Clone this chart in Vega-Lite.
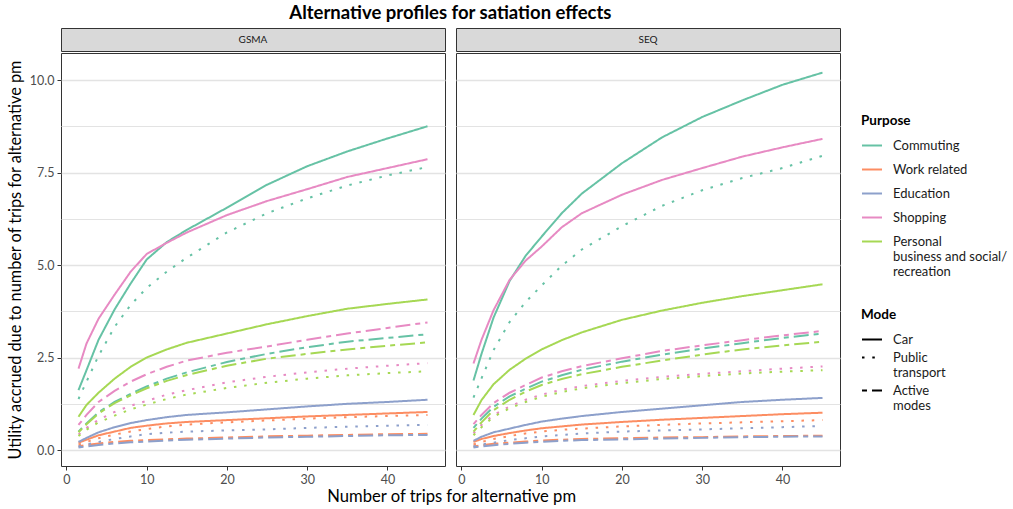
{
  "$schema": "https://vega.github.io/schema/vega-lite/v6.json",
  "background": "white",
  "padding": {"left": 6, "top": 4, "right": 5, "bottom": 5},
  "title": {"text": "Alternative profiles for satiation effects", "font": "Lato", "fontSize": 18.5, "fontWeight": "bold", "color": "black", "anchor": "middle", "offset": 5, "dx": -57},
  "config": {
    "font": "Lato",
    "view": {"stroke": "#333333", "strokeWidth": 1},
    "axis": {
      "domain": false,
      "labelColor": "#4D4D4D",
      "labelFontSize": 12.5,
      "labelPadding": 3,
      "tickColor": "#333333",
      "tickSize": 4,
      "titleColor": "black",
      "titleFontSize": 16.3,
      "titleFontWeight": "normal"
    },
    "legend": {
      "titleFontSize": 13.5,
      "titleFontWeight": "bold",
      "titleColor": "black",
      "titlePadding": 7,
      "labelFontSize": 13,
      "labelColor": "#1A1A1A",
      "labelLimit": 300,
      "labelOffset": 10,
      "symbolType": "stroke",
      "symbolSize": 400,
      "symbolStrokeWidth": 2,
      "rowPadding": 6
    }
  },
  "datasets": {
    "curves": [
      {"region":"GSMA","purpose":"Commuting","mode":"Car","trips":1.5,"utility":1.62},{"region":"GSMA","purpose":"Commuting","mode":"Car","trips":2.5,"utility":2.16},{"region":"GSMA","purpose":"Commuting","mode":"Car","trips":4,"utility":2.98},{"region":"GSMA","purpose":"Commuting","mode":"Car","trips":6,"utility":3.8},{"region":"GSMA","purpose":"Commuting","mode":"Car","trips":8,"utility":4.5},{"region":"GSMA","purpose":"Commuting","mode":"Car","trips":10,"utility":5.15},{"region":"GSMA","purpose":"Commuting","mode":"Car","trips":12.5,"utility":5.62},{"region":"GSMA","purpose":"Commuting","mode":"Car","trips":15,"utility":5.95},{"region":"GSMA","purpose":"Commuting","mode":"Car","trips":20,"utility":6.55},{"region":"GSMA","purpose":"Commuting","mode":"Car","trips":25,"utility":7.17},{"region":"GSMA","purpose":"Commuting","mode":"Car","trips":30,"utility":7.67},{"region":"GSMA","purpose":"Commuting","mode":"Car","trips":35,"utility":8.07},{"region":"GSMA","purpose":"Commuting","mode":"Car","trips":40,"utility":8.42},{"region":"GSMA","purpose":"Commuting","mode":"Car","trips":45,"utility":8.75},
      {"region":"GSMA","purpose":"Commuting","mode":"Public transport","trips":1.5,"utility":1.38},{"region":"GSMA","purpose":"Commuting","mode":"Public transport","trips":2.5,"utility":1.85},{"region":"GSMA","purpose":"Commuting","mode":"Public transport","trips":4,"utility":2.55},{"region":"GSMA","purpose":"Commuting","mode":"Public transport","trips":6,"utility":3.33},{"region":"GSMA","purpose":"Commuting","mode":"Public transport","trips":8,"utility":3.92},{"region":"GSMA","purpose":"Commuting","mode":"Public transport","trips":10,"utility":4.38},{"region":"GSMA","purpose":"Commuting","mode":"Public transport","trips":12.5,"utility":4.82},{"region":"GSMA","purpose":"Commuting","mode":"Public transport","trips":15,"utility":5.2},{"region":"GSMA","purpose":"Commuting","mode":"Public transport","trips":20,"utility":5.88},{"region":"GSMA","purpose":"Commuting","mode":"Public transport","trips":25,"utility":6.4},{"region":"GSMA","purpose":"Commuting","mode":"Public transport","trips":30,"utility":6.8},{"region":"GSMA","purpose":"Commuting","mode":"Public transport","trips":35,"utility":7.15},{"region":"GSMA","purpose":"Commuting","mode":"Public transport","trips":40,"utility":7.42},{"region":"GSMA","purpose":"Commuting","mode":"Public transport","trips":45,"utility":7.65},
      {"region":"GSMA","purpose":"Commuting","mode":"Active modes","trips":1.5,"utility":0.5},{"region":"GSMA","purpose":"Commuting","mode":"Active modes","trips":2.5,"utility":0.72},{"region":"GSMA","purpose":"Commuting","mode":"Active modes","trips":4,"utility":1.02},{"region":"GSMA","purpose":"Commuting","mode":"Active modes","trips":6,"utility":1.3},{"region":"GSMA","purpose":"Commuting","mode":"Active modes","trips":8,"utility":1.52},{"region":"GSMA","purpose":"Commuting","mode":"Active modes","trips":10,"utility":1.72},{"region":"GSMA","purpose":"Commuting","mode":"Active modes","trips":12.5,"utility":1.93},{"region":"GSMA","purpose":"Commuting","mode":"Active modes","trips":15,"utility":2.1},{"region":"GSMA","purpose":"Commuting","mode":"Active modes","trips":20,"utility":2.38},{"region":"GSMA","purpose":"Commuting","mode":"Active modes","trips":25,"utility":2.6},{"region":"GSMA","purpose":"Commuting","mode":"Active modes","trips":30,"utility":2.78},{"region":"GSMA","purpose":"Commuting","mode":"Active modes","trips":35,"utility":2.93},{"region":"GSMA","purpose":"Commuting","mode":"Active modes","trips":40,"utility":3.03},{"region":"GSMA","purpose":"Commuting","mode":"Active modes","trips":45,"utility":3.13},
      {"region":"GSMA","purpose":"Work related","mode":"Car","trips":1.5,"utility":0.2},{"region":"GSMA","purpose":"Work related","mode":"Car","trips":2.5,"utility":0.28},{"region":"GSMA","purpose":"Work related","mode":"Car","trips":4,"utility":0.4},{"region":"GSMA","purpose":"Work related","mode":"Car","trips":6,"utility":0.5},{"region":"GSMA","purpose":"Work related","mode":"Car","trips":8,"utility":0.6},{"region":"GSMA","purpose":"Work related","mode":"Car","trips":10,"utility":0.66},{"region":"GSMA","purpose":"Work related","mode":"Car","trips":12.5,"utility":0.72},{"region":"GSMA","purpose":"Work related","mode":"Car","trips":15,"utility":0.76},{"region":"GSMA","purpose":"Work related","mode":"Car","trips":20,"utility":0.81},{"region":"GSMA","purpose":"Work related","mode":"Car","trips":25,"utility":0.86},{"region":"GSMA","purpose":"Work related","mode":"Car","trips":30,"utility":0.91},{"region":"GSMA","purpose":"Work related","mode":"Car","trips":35,"utility":0.95},{"region":"GSMA","purpose":"Work related","mode":"Car","trips":40,"utility":0.99},{"region":"GSMA","purpose":"Work related","mode":"Car","trips":45,"utility":1.03},
      {"region":"GSMA","purpose":"Work related","mode":"Public transport","trips":1.5,"utility":0.15},{"region":"GSMA","purpose":"Work related","mode":"Public transport","trips":2.5,"utility":0.22},{"region":"GSMA","purpose":"Work related","mode":"Public transport","trips":4,"utility":0.32},{"region":"GSMA","purpose":"Work related","mode":"Public transport","trips":6,"utility":0.42},{"region":"GSMA","purpose":"Work related","mode":"Public transport","trips":8,"utility":0.5},{"region":"GSMA","purpose":"Work related","mode":"Public transport","trips":10,"utility":0.57},{"region":"GSMA","purpose":"Work related","mode":"Public transport","trips":12.5,"utility":0.64},{"region":"GSMA","purpose":"Work related","mode":"Public transport","trips":15,"utility":0.69},{"region":"GSMA","purpose":"Work related","mode":"Public transport","trips":20,"utility":0.75},{"region":"GSMA","purpose":"Work related","mode":"Public transport","trips":25,"utility":0.8},{"region":"GSMA","purpose":"Work related","mode":"Public transport","trips":30,"utility":0.85},{"region":"GSMA","purpose":"Work related","mode":"Public transport","trips":35,"utility":0.89},{"region":"GSMA","purpose":"Work related","mode":"Public transport","trips":40,"utility":0.92},{"region":"GSMA","purpose":"Work related","mode":"Public transport","trips":45,"utility":0.95},
      {"region":"GSMA","purpose":"Work related","mode":"Active modes","trips":1.5,"utility":0.1},{"region":"GSMA","purpose":"Work related","mode":"Active modes","trips":2.5,"utility":0.14},{"region":"GSMA","purpose":"Work related","mode":"Active modes","trips":4,"utility":0.18},{"region":"GSMA","purpose":"Work related","mode":"Active modes","trips":6,"utility":0.22},{"region":"GSMA","purpose":"Work related","mode":"Active modes","trips":8,"utility":0.25},{"region":"GSMA","purpose":"Work related","mode":"Active modes","trips":10,"utility":0.27},{"region":"GSMA","purpose":"Work related","mode":"Active modes","trips":12.5,"utility":0.29},{"region":"GSMA","purpose":"Work related","mode":"Active modes","trips":15,"utility":0.31},{"region":"GSMA","purpose":"Work related","mode":"Active modes","trips":20,"utility":0.34},{"region":"GSMA","purpose":"Work related","mode":"Active modes","trips":25,"utility":0.37},{"region":"GSMA","purpose":"Work related","mode":"Active modes","trips":30,"utility":0.39},{"region":"GSMA","purpose":"Work related","mode":"Active modes","trips":35,"utility":0.41},{"region":"GSMA","purpose":"Work related","mode":"Active modes","trips":40,"utility":0.43},{"region":"GSMA","purpose":"Work related","mode":"Active modes","trips":45,"utility":0.44},
      {"region":"GSMA","purpose":"Education","mode":"Car","trips":1.5,"utility":0.22},{"region":"GSMA","purpose":"Education","mode":"Car","trips":2.5,"utility":0.33},{"region":"GSMA","purpose":"Education","mode":"Car","trips":4,"utility":0.48},{"region":"GSMA","purpose":"Education","mode":"Car","trips":6,"utility":0.62},{"region":"GSMA","purpose":"Education","mode":"Car","trips":8,"utility":0.73},{"region":"GSMA","purpose":"Education","mode":"Car","trips":10,"utility":0.81},{"region":"GSMA","purpose":"Education","mode":"Car","trips":12.5,"utility":0.89},{"region":"GSMA","purpose":"Education","mode":"Car","trips":15,"utility":0.95},{"region":"GSMA","purpose":"Education","mode":"Car","trips":20,"utility":1.02},{"region":"GSMA","purpose":"Education","mode":"Car","trips":25,"utility":1.1},{"region":"GSMA","purpose":"Education","mode":"Car","trips":30,"utility":1.18},{"region":"GSMA","purpose":"Education","mode":"Car","trips":35,"utility":1.25},{"region":"GSMA","purpose":"Education","mode":"Car","trips":40,"utility":1.3},{"region":"GSMA","purpose":"Education","mode":"Car","trips":45,"utility":1.36},
      {"region":"GSMA","purpose":"Education","mode":"Public transport","trips":1.5,"utility":0.1},{"region":"GSMA","purpose":"Education","mode":"Public transport","trips":2.5,"utility":0.15},{"region":"GSMA","purpose":"Education","mode":"Public transport","trips":4,"utility":0.22},{"region":"GSMA","purpose":"Education","mode":"Public transport","trips":6,"utility":0.3},{"region":"GSMA","purpose":"Education","mode":"Public transport","trips":8,"utility":0.37},{"region":"GSMA","purpose":"Education","mode":"Public transport","trips":10,"utility":0.43},{"region":"GSMA","purpose":"Education","mode":"Public transport","trips":12.5,"utility":0.47},{"region":"GSMA","purpose":"Education","mode":"Public transport","trips":15,"utility":0.5},{"region":"GSMA","purpose":"Education","mode":"Public transport","trips":20,"utility":0.53},{"region":"GSMA","purpose":"Education","mode":"Public transport","trips":25,"utility":0.56},{"region":"GSMA","purpose":"Education","mode":"Public transport","trips":30,"utility":0.6},{"region":"GSMA","purpose":"Education","mode":"Public transport","trips":35,"utility":0.63},{"region":"GSMA","purpose":"Education","mode":"Public transport","trips":40,"utility":0.66},{"region":"GSMA","purpose":"Education","mode":"Public transport","trips":45,"utility":0.68},
      {"region":"GSMA","purpose":"Education","mode":"Active modes","trips":1.5,"utility":0.07},{"region":"GSMA","purpose":"Education","mode":"Active modes","trips":2.5,"utility":0.1},{"region":"GSMA","purpose":"Education","mode":"Active modes","trips":4,"utility":0.14},{"region":"GSMA","purpose":"Education","mode":"Active modes","trips":6,"utility":0.18},{"region":"GSMA","purpose":"Education","mode":"Active modes","trips":8,"utility":0.21},{"region":"GSMA","purpose":"Education","mode":"Active modes","trips":10,"utility":0.23},{"region":"GSMA","purpose":"Education","mode":"Active modes","trips":12.5,"utility":0.26},{"region":"GSMA","purpose":"Education","mode":"Active modes","trips":15,"utility":0.28},{"region":"GSMA","purpose":"Education","mode":"Active modes","trips":20,"utility":0.31},{"region":"GSMA","purpose":"Education","mode":"Active modes","trips":25,"utility":0.34},{"region":"GSMA","purpose":"Education","mode":"Active modes","trips":30,"utility":0.36},{"region":"GSMA","purpose":"Education","mode":"Active modes","trips":35,"utility":0.38},{"region":"GSMA","purpose":"Education","mode":"Active modes","trips":40,"utility":0.4},{"region":"GSMA","purpose":"Education","mode":"Active modes","trips":45,"utility":0.41},
      {"region":"GSMA","purpose":"Shopping","mode":"Car","trips":1.5,"utility":2.2},{"region":"GSMA","purpose":"Shopping","mode":"Car","trips":2.5,"utility":2.88},{"region":"GSMA","purpose":"Shopping","mode":"Car","trips":4,"utility":3.55},{"region":"GSMA","purpose":"Shopping","mode":"Car","trips":6,"utility":4.2},{"region":"GSMA","purpose":"Shopping","mode":"Car","trips":8,"utility":4.82},{"region":"GSMA","purpose":"Shopping","mode":"Car","trips":10,"utility":5.3},{"region":"GSMA","purpose":"Shopping","mode":"Car","trips":12.5,"utility":5.6},{"region":"GSMA","purpose":"Shopping","mode":"Car","trips":15,"utility":5.88},{"region":"GSMA","purpose":"Shopping","mode":"Car","trips":20,"utility":6.35},{"region":"GSMA","purpose":"Shopping","mode":"Car","trips":25,"utility":6.73},{"region":"GSMA","purpose":"Shopping","mode":"Car","trips":30,"utility":7.05},{"region":"GSMA","purpose":"Shopping","mode":"Car","trips":35,"utility":7.38},{"region":"GSMA","purpose":"Shopping","mode":"Car","trips":40,"utility":7.62},{"region":"GSMA","purpose":"Shopping","mode":"Car","trips":45,"utility":7.86},
      {"region":"GSMA","purpose":"Shopping","mode":"Public transport","trips":1.5,"utility":0.42},{"region":"GSMA","purpose":"Shopping","mode":"Public transport","trips":2.5,"utility":0.6},{"region":"GSMA","purpose":"Shopping","mode":"Public transport","trips":4,"utility":0.82},{"region":"GSMA","purpose":"Shopping","mode":"Public transport","trips":6,"utility":1.03},{"region":"GSMA","purpose":"Shopping","mode":"Public transport","trips":8,"utility":1.2},{"region":"GSMA","purpose":"Shopping","mode":"Public transport","trips":10,"utility":1.33},{"region":"GSMA","purpose":"Shopping","mode":"Public transport","trips":12.5,"utility":1.5},{"region":"GSMA","purpose":"Shopping","mode":"Public transport","trips":15,"utility":1.62},{"region":"GSMA","purpose":"Shopping","mode":"Public transport","trips":20,"utility":1.83},{"region":"GSMA","purpose":"Shopping","mode":"Public transport","trips":25,"utility":1.98},{"region":"GSMA","purpose":"Shopping","mode":"Public transport","trips":30,"utility":2.1},{"region":"GSMA","purpose":"Shopping","mode":"Public transport","trips":35,"utility":2.2},{"region":"GSMA","purpose":"Shopping","mode":"Public transport","trips":40,"utility":2.28},{"region":"GSMA","purpose":"Shopping","mode":"Public transport","trips":45,"utility":2.35},
      {"region":"GSMA","purpose":"Shopping","mode":"Active modes","trips":1.5,"utility":0.68},{"region":"GSMA","purpose":"Shopping","mode":"Active modes","trips":2.5,"utility":0.95},{"region":"GSMA","purpose":"Shopping","mode":"Active modes","trips":4,"utility":1.3},{"region":"GSMA","purpose":"Shopping","mode":"Active modes","trips":6,"utility":1.6},{"region":"GSMA","purpose":"Shopping","mode":"Active modes","trips":8,"utility":1.85},{"region":"GSMA","purpose":"Shopping","mode":"Active modes","trips":10,"utility":2.05},{"region":"GSMA","purpose":"Shopping","mode":"Active modes","trips":12.5,"utility":2.25},{"region":"GSMA","purpose":"Shopping","mode":"Active modes","trips":15,"utility":2.42},{"region":"GSMA","purpose":"Shopping","mode":"Active modes","trips":20,"utility":2.63},{"region":"GSMA","purpose":"Shopping","mode":"Active modes","trips":25,"utility":2.8},{"region":"GSMA","purpose":"Shopping","mode":"Active modes","trips":30,"utility":2.98},{"region":"GSMA","purpose":"Shopping","mode":"Active modes","trips":35,"utility":3.15},{"region":"GSMA","purpose":"Shopping","mode":"Active modes","trips":40,"utility":3.3},{"region":"GSMA","purpose":"Shopping","mode":"Active modes","trips":45,"utility":3.45},
      {"region":"GSMA","purpose":"Personal business and social/ recreation","mode":"Car","trips":1.5,"utility":0.9},{"region":"GSMA","purpose":"Personal business and social/ recreation","mode":"Car","trips":2.5,"utility":1.22},{"region":"GSMA","purpose":"Personal business and social/ recreation","mode":"Car","trips":4,"utility":1.55},{"region":"GSMA","purpose":"Personal business and social/ recreation","mode":"Car","trips":6,"utility":1.93},{"region":"GSMA","purpose":"Personal business and social/ recreation","mode":"Car","trips":8,"utility":2.25},{"region":"GSMA","purpose":"Personal business and social/ recreation","mode":"Car","trips":10,"utility":2.5},{"region":"GSMA","purpose":"Personal business and social/ recreation","mode":"Car","trips":12.5,"utility":2.72},{"region":"GSMA","purpose":"Personal business and social/ recreation","mode":"Car","trips":15,"utility":2.9},{"region":"GSMA","purpose":"Personal business and social/ recreation","mode":"Car","trips":20,"utility":3.15},{"region":"GSMA","purpose":"Personal business and social/ recreation","mode":"Car","trips":25,"utility":3.4},{"region":"GSMA","purpose":"Personal business and social/ recreation","mode":"Car","trips":30,"utility":3.62},{"region":"GSMA","purpose":"Personal business and social/ recreation","mode":"Car","trips":35,"utility":3.82},{"region":"GSMA","purpose":"Personal business and social/ recreation","mode":"Car","trips":40,"utility":3.95},{"region":"GSMA","purpose":"Personal business and social/ recreation","mode":"Car","trips":45,"utility":4.07},
      {"region":"GSMA","purpose":"Personal business and social/ recreation","mode":"Public transport","trips":1.5,"utility":0.38},{"region":"GSMA","purpose":"Personal business and social/ recreation","mode":"Public transport","trips":2.5,"utility":0.55},{"region":"GSMA","purpose":"Personal business and social/ recreation","mode":"Public transport","trips":4,"utility":0.75},{"region":"GSMA","purpose":"Personal business and social/ recreation","mode":"Public transport","trips":6,"utility":0.93},{"region":"GSMA","purpose":"Personal business and social/ recreation","mode":"Public transport","trips":8,"utility":1.1},{"region":"GSMA","purpose":"Personal business and social/ recreation","mode":"Public transport","trips":10,"utility":1.23},{"region":"GSMA","purpose":"Personal business and social/ recreation","mode":"Public transport","trips":12.5,"utility":1.38},{"region":"GSMA","purpose":"Personal business and social/ recreation","mode":"Public transport","trips":15,"utility":1.5},{"region":"GSMA","purpose":"Personal business and social/ recreation","mode":"Public transport","trips":20,"utility":1.68},{"region":"GSMA","purpose":"Personal business and social/ recreation","mode":"Public transport","trips":25,"utility":1.82},{"region":"GSMA","purpose":"Personal business and social/ recreation","mode":"Public transport","trips":30,"utility":1.93},{"region":"GSMA","purpose":"Personal business and social/ recreation","mode":"Public transport","trips":35,"utility":2.02},{"region":"GSMA","purpose":"Personal business and social/ recreation","mode":"Public transport","trips":40,"utility":2.08},{"region":"GSMA","purpose":"Personal business and social/ recreation","mode":"Public transport","trips":45,"utility":2.13},
      {"region":"GSMA","purpose":"Personal business and social/ recreation","mode":"Active modes","trips":1.5,"utility":0.48},{"region":"GSMA","purpose":"Personal business and social/ recreation","mode":"Active modes","trips":2.5,"utility":0.7},{"region":"GSMA","purpose":"Personal business and social/ recreation","mode":"Active modes","trips":4,"utility":0.99},{"region":"GSMA","purpose":"Personal business and social/ recreation","mode":"Active modes","trips":6,"utility":1.27},{"region":"GSMA","purpose":"Personal business and social/ recreation","mode":"Active modes","trips":8,"utility":1.48},{"region":"GSMA","purpose":"Personal business and social/ recreation","mode":"Active modes","trips":10,"utility":1.67},{"region":"GSMA","purpose":"Personal business and social/ recreation","mode":"Active modes","trips":12.5,"utility":1.87},{"region":"GSMA","purpose":"Personal business and social/ recreation","mode":"Active modes","trips":15,"utility":2.03},{"region":"GSMA","purpose":"Personal business and social/ recreation","mode":"Active modes","trips":20,"utility":2.28},{"region":"GSMA","purpose":"Personal business and social/ recreation","mode":"Active modes","trips":25,"utility":2.47},{"region":"GSMA","purpose":"Personal business and social/ recreation","mode":"Active modes","trips":30,"utility":2.6},{"region":"GSMA","purpose":"Personal business and social/ recreation","mode":"Active modes","trips":35,"utility":2.72},{"region":"GSMA","purpose":"Personal business and social/ recreation","mode":"Active modes","trips":40,"utility":2.82},{"region":"GSMA","purpose":"Personal business and social/ recreation","mode":"Active modes","trips":45,"utility":2.91},
      {"region":"SEQ","purpose":"Commuting","mode":"Car","trips":1.5,"utility":1.88},{"region":"SEQ","purpose":"Commuting","mode":"Car","trips":2.5,"utility":2.6},{"region":"SEQ","purpose":"Commuting","mode":"Car","trips":4,"utility":3.58},{"region":"SEQ","purpose":"Commuting","mode":"Car","trips":6,"utility":4.57},{"region":"SEQ","purpose":"Commuting","mode":"Car","trips":8,"utility":5.25},{"region":"SEQ","purpose":"Commuting","mode":"Car","trips":10,"utility":5.77},{"region":"SEQ","purpose":"Commuting","mode":"Car","trips":12.5,"utility":6.4},{"region":"SEQ","purpose":"Commuting","mode":"Car","trips":15,"utility":6.93},{"region":"SEQ","purpose":"Commuting","mode":"Car","trips":20,"utility":7.75},{"region":"SEQ","purpose":"Commuting","mode":"Car","trips":25,"utility":8.45},{"region":"SEQ","purpose":"Commuting","mode":"Car","trips":30,"utility":9.0},{"region":"SEQ","purpose":"Commuting","mode":"Car","trips":35,"utility":9.45},{"region":"SEQ","purpose":"Commuting","mode":"Car","trips":40,"utility":9.87},{"region":"SEQ","purpose":"Commuting","mode":"Car","trips":45,"utility":10.2},
      {"region":"SEQ","purpose":"Commuting","mode":"Public transport","trips":1.5,"utility":1.42},{"region":"SEQ","purpose":"Commuting","mode":"Public transport","trips":2.5,"utility":1.94},{"region":"SEQ","purpose":"Commuting","mode":"Public transport","trips":4,"utility":2.7},{"region":"SEQ","purpose":"Commuting","mode":"Public transport","trips":6,"utility":3.46},{"region":"SEQ","purpose":"Commuting","mode":"Public transport","trips":8,"utility":4.0},{"region":"SEQ","purpose":"Commuting","mode":"Public transport","trips":10,"utility":4.45},{"region":"SEQ","purpose":"Commuting","mode":"Public transport","trips":12.5,"utility":4.98},{"region":"SEQ","purpose":"Commuting","mode":"Public transport","trips":15,"utility":5.42},{"region":"SEQ","purpose":"Commuting","mode":"Public transport","trips":20,"utility":6.05},{"region":"SEQ","purpose":"Commuting","mode":"Public transport","trips":25,"utility":6.6},{"region":"SEQ","purpose":"Commuting","mode":"Public transport","trips":30,"utility":7.02},{"region":"SEQ","purpose":"Commuting","mode":"Public transport","trips":35,"utility":7.35},{"region":"SEQ","purpose":"Commuting","mode":"Public transport","trips":40,"utility":7.62},{"region":"SEQ","purpose":"Commuting","mode":"Public transport","trips":45,"utility":7.95},
      {"region":"SEQ","purpose":"Commuting","mode":"Active modes","trips":1.5,"utility":0.6},{"region":"SEQ","purpose":"Commuting","mode":"Active modes","trips":2.5,"utility":0.85},{"region":"SEQ","purpose":"Commuting","mode":"Active modes","trips":4,"utility":1.17},{"region":"SEQ","purpose":"Commuting","mode":"Active modes","trips":6,"utility":1.45},{"region":"SEQ","purpose":"Commuting","mode":"Active modes","trips":8,"utility":1.66},{"region":"SEQ","purpose":"Commuting","mode":"Active modes","trips":10,"utility":1.85},{"region":"SEQ","purpose":"Commuting","mode":"Active modes","trips":12.5,"utility":2.02},{"region":"SEQ","purpose":"Commuting","mode":"Active modes","trips":15,"utility":2.17},{"region":"SEQ","purpose":"Commuting","mode":"Active modes","trips":20,"utility":2.39},{"region":"SEQ","purpose":"Commuting","mode":"Active modes","trips":25,"utility":2.58},{"region":"SEQ","purpose":"Commuting","mode":"Active modes","trips":30,"utility":2.74},{"region":"SEQ","purpose":"Commuting","mode":"Active modes","trips":35,"utility":2.89},{"region":"SEQ","purpose":"Commuting","mode":"Active modes","trips":40,"utility":3.03},{"region":"SEQ","purpose":"Commuting","mode":"Active modes","trips":45,"utility":3.15},
      {"region":"SEQ","purpose":"Work related","mode":"Car","trips":1.5,"utility":0.22},{"region":"SEQ","purpose":"Work related","mode":"Car","trips":2.5,"utility":0.3},{"region":"SEQ","purpose":"Work related","mode":"Car","trips":4,"utility":0.38},{"region":"SEQ","purpose":"Work related","mode":"Car","trips":6,"utility":0.46},{"region":"SEQ","purpose":"Work related","mode":"Car","trips":8,"utility":0.53},{"region":"SEQ","purpose":"Work related","mode":"Car","trips":10,"utility":0.59},{"region":"SEQ","purpose":"Work related","mode":"Car","trips":12.5,"utility":0.64},{"region":"SEQ","purpose":"Work related","mode":"Car","trips":15,"utility":0.69},{"region":"SEQ","purpose":"Work related","mode":"Car","trips":20,"utility":0.76},{"region":"SEQ","purpose":"Work related","mode":"Car","trips":25,"utility":0.82},{"region":"SEQ","purpose":"Work related","mode":"Car","trips":30,"utility":0.87},{"region":"SEQ","purpose":"Work related","mode":"Car","trips":35,"utility":0.92},{"region":"SEQ","purpose":"Work related","mode":"Car","trips":40,"utility":0.97},{"region":"SEQ","purpose":"Work related","mode":"Car","trips":45,"utility":1.01},
      {"region":"SEQ","purpose":"Work related","mode":"Public transport","trips":1.5,"utility":0.15},{"region":"SEQ","purpose":"Work related","mode":"Public transport","trips":2.5,"utility":0.22},{"region":"SEQ","purpose":"Work related","mode":"Public transport","trips":4,"utility":0.3},{"region":"SEQ","purpose":"Work related","mode":"Public transport","trips":6,"utility":0.38},{"region":"SEQ","purpose":"Work related","mode":"Public transport","trips":8,"utility":0.45},{"region":"SEQ","purpose":"Work related","mode":"Public transport","trips":10,"utility":0.5},{"region":"SEQ","purpose":"Work related","mode":"Public transport","trips":12.5,"utility":0.55},{"region":"SEQ","purpose":"Work related","mode":"Public transport","trips":15,"utility":0.58},{"region":"SEQ","purpose":"Work related","mode":"Public transport","trips":20,"utility":0.64},{"region":"SEQ","purpose":"Work related","mode":"Public transport","trips":25,"utility":0.68},{"region":"SEQ","purpose":"Work related","mode":"Public transport","trips":30,"utility":0.72},{"region":"SEQ","purpose":"Work related","mode":"Public transport","trips":35,"utility":0.75},{"region":"SEQ","purpose":"Work related","mode":"Public transport","trips":40,"utility":0.78},{"region":"SEQ","purpose":"Work related","mode":"Public transport","trips":45,"utility":0.81},
      {"region":"SEQ","purpose":"Work related","mode":"Active modes","trips":1.5,"utility":0.1},{"region":"SEQ","purpose":"Work related","mode":"Active modes","trips":2.5,"utility":0.13},{"region":"SEQ","purpose":"Work related","mode":"Active modes","trips":4,"utility":0.17},{"region":"SEQ","purpose":"Work related","mode":"Active modes","trips":6,"utility":0.2},{"region":"SEQ","purpose":"Work related","mode":"Active modes","trips":8,"utility":0.23},{"region":"SEQ","purpose":"Work related","mode":"Active modes","trips":10,"utility":0.26},{"region":"SEQ","purpose":"Work related","mode":"Active modes","trips":12.5,"utility":0.28},{"region":"SEQ","purpose":"Work related","mode":"Active modes","trips":15,"utility":0.3},{"region":"SEQ","purpose":"Work related","mode":"Active modes","trips":20,"utility":0.32},{"region":"SEQ","purpose":"Work related","mode":"Active modes","trips":25,"utility":0.34},{"region":"SEQ","purpose":"Work related","mode":"Active modes","trips":30,"utility":0.35},{"region":"SEQ","purpose":"Work related","mode":"Active modes","trips":35,"utility":0.37},{"region":"SEQ","purpose":"Work related","mode":"Active modes","trips":40,"utility":0.38},{"region":"SEQ","purpose":"Work related","mode":"Active modes","trips":45,"utility":0.39},
      {"region":"SEQ","purpose":"Education","mode":"Car","trips":1.5,"utility":0.25},{"region":"SEQ","purpose":"Education","mode":"Car","trips":2.5,"utility":0.36},{"region":"SEQ","purpose":"Education","mode":"Car","trips":4,"utility":0.48},{"region":"SEQ","purpose":"Education","mode":"Car","trips":6,"utility":0.58},{"region":"SEQ","purpose":"Education","mode":"Car","trips":8,"utility":0.68},{"region":"SEQ","purpose":"Education","mode":"Car","trips":10,"utility":0.77},{"region":"SEQ","purpose":"Education","mode":"Car","trips":12.5,"utility":0.85},{"region":"SEQ","purpose":"Education","mode":"Car","trips":15,"utility":0.92},{"region":"SEQ","purpose":"Education","mode":"Car","trips":20,"utility":1.03},{"region":"SEQ","purpose":"Education","mode":"Car","trips":25,"utility":1.12},{"region":"SEQ","purpose":"Education","mode":"Car","trips":30,"utility":1.21},{"region":"SEQ","purpose":"Education","mode":"Car","trips":35,"utility":1.3},{"region":"SEQ","purpose":"Education","mode":"Car","trips":40,"utility":1.36},{"region":"SEQ","purpose":"Education","mode":"Car","trips":45,"utility":1.41},
      {"region":"SEQ","purpose":"Education","mode":"Public transport","trips":1.5,"utility":0.1},{"region":"SEQ","purpose":"Education","mode":"Public transport","trips":2.5,"utility":0.15},{"region":"SEQ","purpose":"Education","mode":"Public transport","trips":4,"utility":0.2},{"region":"SEQ","purpose":"Education","mode":"Public transport","trips":6,"utility":0.27},{"region":"SEQ","purpose":"Education","mode":"Public transport","trips":8,"utility":0.32},{"region":"SEQ","purpose":"Education","mode":"Public transport","trips":10,"utility":0.37},{"region":"SEQ","purpose":"Education","mode":"Public transport","trips":12.5,"utility":0.41},{"region":"SEQ","purpose":"Education","mode":"Public transport","trips":15,"utility":0.45},{"region":"SEQ","purpose":"Education","mode":"Public transport","trips":20,"utility":0.5},{"region":"SEQ","purpose":"Education","mode":"Public transport","trips":25,"utility":0.53},{"region":"SEQ","purpose":"Education","mode":"Public transport","trips":30,"utility":0.56},{"region":"SEQ","purpose":"Education","mode":"Public transport","trips":35,"utility":0.59},{"region":"SEQ","purpose":"Education","mode":"Public transport","trips":40,"utility":0.62},{"region":"SEQ","purpose":"Education","mode":"Public transport","trips":45,"utility":0.65},
      {"region":"SEQ","purpose":"Education","mode":"Active modes","trips":1.5,"utility":0.07},{"region":"SEQ","purpose":"Education","mode":"Active modes","trips":2.5,"utility":0.1},{"region":"SEQ","purpose":"Education","mode":"Active modes","trips":4,"utility":0.13},{"region":"SEQ","purpose":"Education","mode":"Active modes","trips":6,"utility":0.17},{"region":"SEQ","purpose":"Education","mode":"Active modes","trips":8,"utility":0.2},{"region":"SEQ","purpose":"Education","mode":"Active modes","trips":10,"utility":0.22},{"region":"SEQ","purpose":"Education","mode":"Active modes","trips":12.5,"utility":0.25},{"region":"SEQ","purpose":"Education","mode":"Active modes","trips":15,"utility":0.27},{"region":"SEQ","purpose":"Education","mode":"Active modes","trips":20,"utility":0.29},{"region":"SEQ","purpose":"Education","mode":"Active modes","trips":25,"utility":0.31},{"region":"SEQ","purpose":"Education","mode":"Active modes","trips":30,"utility":0.33},{"region":"SEQ","purpose":"Education","mode":"Active modes","trips":35,"utility":0.35},{"region":"SEQ","purpose":"Education","mode":"Active modes","trips":40,"utility":0.36},{"region":"SEQ","purpose":"Education","mode":"Active modes","trips":45,"utility":0.37},
      {"region":"SEQ","purpose":"Shopping","mode":"Car","trips":1.5,"utility":2.34},{"region":"SEQ","purpose":"Shopping","mode":"Car","trips":2.5,"utility":2.98},{"region":"SEQ","purpose":"Shopping","mode":"Car","trips":4,"utility":3.78},{"region":"SEQ","purpose":"Shopping","mode":"Car","trips":6,"utility":4.6},{"region":"SEQ","purpose":"Shopping","mode":"Car","trips":8,"utility":5.12},{"region":"SEQ","purpose":"Shopping","mode":"Car","trips":10,"utility":5.5},{"region":"SEQ","purpose":"Shopping","mode":"Car","trips":12.5,"utility":6.02},{"region":"SEQ","purpose":"Shopping","mode":"Car","trips":15,"utility":6.4},{"region":"SEQ","purpose":"Shopping","mode":"Car","trips":20,"utility":6.9},{"region":"SEQ","purpose":"Shopping","mode":"Car","trips":25,"utility":7.3},{"region":"SEQ","purpose":"Shopping","mode":"Car","trips":30,"utility":7.62},{"region":"SEQ","purpose":"Shopping","mode":"Car","trips":35,"utility":7.93},{"region":"SEQ","purpose":"Shopping","mode":"Car","trips":40,"utility":8.18},{"region":"SEQ","purpose":"Shopping","mode":"Car","trips":45,"utility":8.41},
      {"region":"SEQ","purpose":"Shopping","mode":"Public transport","trips":1.5,"utility":0.45},{"region":"SEQ","purpose":"Shopping","mode":"Public transport","trips":2.5,"utility":0.68},{"region":"SEQ","purpose":"Shopping","mode":"Public transport","trips":4,"utility":0.95},{"region":"SEQ","purpose":"Shopping","mode":"Public transport","trips":6,"utility":1.18},{"region":"SEQ","purpose":"Shopping","mode":"Public transport","trips":8,"utility":1.36},{"region":"SEQ","purpose":"Shopping","mode":"Public transport","trips":10,"utility":1.5},{"region":"SEQ","purpose":"Shopping","mode":"Public transport","trips":12.5,"utility":1.63},{"region":"SEQ","purpose":"Shopping","mode":"Public transport","trips":15,"utility":1.73},{"region":"SEQ","purpose":"Shopping","mode":"Public transport","trips":20,"utility":1.87},{"region":"SEQ","purpose":"Shopping","mode":"Public transport","trips":25,"utility":1.98},{"region":"SEQ","purpose":"Shopping","mode":"Public transport","trips":30,"utility":2.06},{"region":"SEQ","purpose":"Shopping","mode":"Public transport","trips":35,"utility":2.13},{"region":"SEQ","purpose":"Shopping","mode":"Public transport","trips":40,"utility":2.2},{"region":"SEQ","purpose":"Shopping","mode":"Public transport","trips":45,"utility":2.26},
      {"region":"SEQ","purpose":"Shopping","mode":"Active modes","trips":1.5,"utility":0.7},{"region":"SEQ","purpose":"Shopping","mode":"Active modes","trips":2.5,"utility":0.95},{"region":"SEQ","purpose":"Shopping","mode":"Active modes","trips":4,"utility":1.27},{"region":"SEQ","purpose":"Shopping","mode":"Active modes","trips":6,"utility":1.55},{"region":"SEQ","purpose":"Shopping","mode":"Active modes","trips":8,"utility":1.76},{"region":"SEQ","purpose":"Shopping","mode":"Active modes","trips":10,"utility":1.96},{"region":"SEQ","purpose":"Shopping","mode":"Active modes","trips":12.5,"utility":2.13},{"region":"SEQ","purpose":"Shopping","mode":"Active modes","trips":15,"utility":2.27},{"region":"SEQ","purpose":"Shopping","mode":"Active modes","trips":20,"utility":2.48},{"region":"SEQ","purpose":"Shopping","mode":"Active modes","trips":25,"utility":2.68},{"region":"SEQ","purpose":"Shopping","mode":"Active modes","trips":30,"utility":2.83},{"region":"SEQ","purpose":"Shopping","mode":"Active modes","trips":35,"utility":2.97},{"region":"SEQ","purpose":"Shopping","mode":"Active modes","trips":40,"utility":3.1},{"region":"SEQ","purpose":"Shopping","mode":"Active modes","trips":45,"utility":3.22},
      {"region":"SEQ","purpose":"Personal business and social/ recreation","mode":"Car","trips":1.5,"utility":0.95},{"region":"SEQ","purpose":"Personal business and social/ recreation","mode":"Car","trips":2.5,"utility":1.35},{"region":"SEQ","purpose":"Personal business and social/ recreation","mode":"Car","trips":4,"utility":1.78},{"region":"SEQ","purpose":"Personal business and social/ recreation","mode":"Car","trips":6,"utility":2.17},{"region":"SEQ","purpose":"Personal business and social/ recreation","mode":"Car","trips":8,"utility":2.47},{"region":"SEQ","purpose":"Personal business and social/ recreation","mode":"Car","trips":10,"utility":2.72},{"region":"SEQ","purpose":"Personal business and social/ recreation","mode":"Car","trips":12.5,"utility":2.97},{"region":"SEQ","purpose":"Personal business and social/ recreation","mode":"Car","trips":15,"utility":3.18},{"region":"SEQ","purpose":"Personal business and social/ recreation","mode":"Car","trips":20,"utility":3.52},{"region":"SEQ","purpose":"Personal business and social/ recreation","mode":"Car","trips":25,"utility":3.77},{"region":"SEQ","purpose":"Personal business and social/ recreation","mode":"Car","trips":30,"utility":3.98},{"region":"SEQ","purpose":"Personal business and social/ recreation","mode":"Car","trips":35,"utility":4.16},{"region":"SEQ","purpose":"Personal business and social/ recreation","mode":"Car","trips":40,"utility":4.32},{"region":"SEQ","purpose":"Personal business and social/ recreation","mode":"Car","trips":45,"utility":4.48},
      {"region":"SEQ","purpose":"Personal business and social/ recreation","mode":"Public transport","trips":1.5,"utility":0.4},{"region":"SEQ","purpose":"Personal business and social/ recreation","mode":"Public transport","trips":2.5,"utility":0.62},{"region":"SEQ","purpose":"Personal business and social/ recreation","mode":"Public transport","trips":4,"utility":0.9},{"region":"SEQ","purpose":"Personal business and social/ recreation","mode":"Public transport","trips":6,"utility":1.13},{"region":"SEQ","purpose":"Personal business and social/ recreation","mode":"Public transport","trips":8,"utility":1.3},{"region":"SEQ","purpose":"Personal business and social/ recreation","mode":"Public transport","trips":10,"utility":1.44},{"region":"SEQ","purpose":"Personal business and social/ recreation","mode":"Public transport","trips":12.5,"utility":1.57},{"region":"SEQ","purpose":"Personal business and social/ recreation","mode":"Public transport","trips":15,"utility":1.67},{"region":"SEQ","purpose":"Personal business and social/ recreation","mode":"Public transport","trips":20,"utility":1.81},{"region":"SEQ","purpose":"Personal business and social/ recreation","mode":"Public transport","trips":25,"utility":1.92},{"region":"SEQ","purpose":"Personal business and social/ recreation","mode":"Public transport","trips":30,"utility":2.0},{"region":"SEQ","purpose":"Personal business and social/ recreation","mode":"Public transport","trips":35,"utility":2.07},{"region":"SEQ","purpose":"Personal business and social/ recreation","mode":"Public transport","trips":40,"utility":2.12},{"region":"SEQ","purpose":"Personal business and social/ recreation","mode":"Public transport","trips":45,"utility":2.16},
      {"region":"SEQ","purpose":"Personal business and social/ recreation","mode":"Active modes","trips":1.5,"utility":0.5},{"region":"SEQ","purpose":"Personal business and social/ recreation","mode":"Active modes","trips":2.5,"utility":0.75},{"region":"SEQ","purpose":"Personal business and social/ recreation","mode":"Active modes","trips":4,"utility":1.08},{"region":"SEQ","purpose":"Personal business and social/ recreation","mode":"Active modes","trips":6,"utility":1.36},{"region":"SEQ","purpose":"Personal business and social/ recreation","mode":"Active modes","trips":8,"utility":1.58},{"region":"SEQ","purpose":"Personal business and social/ recreation","mode":"Active modes","trips":10,"utility":1.76},{"region":"SEQ","purpose":"Personal business and social/ recreation","mode":"Active modes","trips":12.5,"utility":1.92},{"region":"SEQ","purpose":"Personal business and social/ recreation","mode":"Active modes","trips":15,"utility":2.05},{"region":"SEQ","purpose":"Personal business and social/ recreation","mode":"Active modes","trips":20,"utility":2.25},{"region":"SEQ","purpose":"Personal business and social/ recreation","mode":"Active modes","trips":25,"utility":2.42},{"region":"SEQ","purpose":"Personal business and social/ recreation","mode":"Active modes","trips":30,"utility":2.58},{"region":"SEQ","purpose":"Personal business and social/ recreation","mode":"Active modes","trips":35,"utility":2.72},{"region":"SEQ","purpose":"Personal business and social/ recreation","mode":"Active modes","trips":40,"utility":2.83},{"region":"SEQ","purpose":"Personal business and social/ recreation","mode":"Active modes","trips":45,"utility":2.93}
    ]
  },
  "vconcat": [
    {
      "title": {"text": "Number of trips for alternative pm", "orient": "bottom", "anchor": "middle", "font": "Lato", "fontSize": 16.6, "fontWeight": "normal", "color": "black", "offset": 3, "dx": 28},
      "spacing": 9,
      "hconcat": [
        {
          "spacing": 0,
          "vconcat": [
            {
              "data": {"values": [{"region": "GSMA"}]},
              "width": 384,
              "height": 23,
              "view": {"fill": "#D9D9D9", "stroke": "#333333"},
              "mark": {"type": "text", "font": "Lato", "fontSize": 10, "color": "#1A1A1A"},
              "encoding": {"text": {"field": "region", "type": "nominal"}}
            },
            {
              "data": {"name": "curves"},
              "transform": [{"filter": "datum.region === 'GSMA'"}],
              "width": 384,
              "height": 413,
              "mark": {"type": "line", "strokeWidth": 2},
              "encoding": {
                "x": {
                  "field": "trips", "type": "quantitative",
                  "scale": {"domain": [-0.68, 47.18], "nice": false, "zero": false},
                  "axis": {"values": [0, 10, 20, 30, 40], "grid": false, "title": null}
                },
                "y": {
                  "field": "utility", "type": "quantitative",
                  "scale": {"domain": [-0.43, 10.73], "nice": false, "zero": false},
                  "axis": {
                    "values": [0, 1.25, 2.5, 3.75, 5, 6.25, 7.5, 8.75, 10],
                    "labelExpr": "datum.value % 2.5 === 0 ? format(datum.value, '.1f') : ''",
                    "tickOpacity": {"condition": {"test": "datum.value % 2.5 !== 0", "value": 0}, "value": 1},
                    "grid": true,
                    "gridColor": "#E3E3E3",
                    "gridWidth": {"condition": {"test": "datum.value % 2.5 === 0", "value": 1.5}, "value": 1},
                    "title": "Utility accrued due to number of trips for alternative pm",
                    "titlePadding": 6
                  }
                },
                "color": {
                  "field": "purpose", "type": "nominal",
                  "scale": {
                    "domain": ["Commuting", "Work related", "Education", "Shopping", "Personal business and social/ recreation"],
                    "range": ["#66C2A5", "#FC8D62", "#8DA0CB", "#E78AC3", "#A6D854"]
                  },
                  "legend": {
                    "title": "Purpose",
                    "orient": "none",
                    "legendX": 800,
                    "legendY": 86,
                    "labelExpr": "datum.label === 'Personal business and social/ recreation' ? ['Personal', 'business and social/', 'recreation'] : datum.label"
                  }
                },
                "strokeDash": {
                  "field": "mode", "type": "nominal",
                  "scale": {
                    "domain": ["Car", "Public transport", "Active modes"],
                    "range": [[1, 0], [2.5, 7.8], [5, 5, 15, 5]]
                  },
                  "legend": {
                    "title": "Mode",
                    "orient": "none",
                    "legendX": 800,
                    "legendY": 280,
                    "rowPadding": -2,
                    "symbolStrokeColor": "black",
                    "labelExpr": "datum.label === 'Public transport' ? ['Public', 'transport'] : datum.label === 'Active modes' ? ['Active', 'modes'] : datum.label"
                  }
                }
              }
            }
          ]
        },
        {
          "spacing": 0,
          "vconcat": [
            {
              "data": {"values": [{"region": "SEQ"}]},
              "width": 384,
              "height": 23,
              "view": {"fill": "#D9D9D9", "stroke": "#333333"},
              "mark": {"type": "text", "font": "Lato", "fontSize": 10, "color": "#1A1A1A"},
              "encoding": {"text": {"field": "region", "type": "nominal"}}
            },
            {
              "data": {"name": "curves"},
              "transform": [{"filter": "datum.region === 'SEQ'"}],
              "width": 384,
              "height": 413,
              "mark": {"type": "line", "strokeWidth": 2},
              "encoding": {
                "x": {
                  "field": "trips", "type": "quantitative",
                  "scale": {"domain": [-0.68, 47.18], "nice": false, "zero": false},
                  "axis": {"values": [0, 10, 20, 30, 40], "grid": false, "title": null}
                },
                "y": {
                  "field": "utility", "type": "quantitative",
                  "scale": {"domain": [-0.43, 10.73], "nice": false, "zero": false},
                  "axis": {
                    "values": [0, 1.25, 2.5, 3.75, 5, 6.25, 7.5, 8.75, 10],
                    "labels": false,
                    "ticks": false,
                    "grid": true,
                    "gridColor": "#E3E3E3",
                    "gridWidth": {"condition": {"test": "datum.value % 2.5 === 0", "value": 1.5}, "value": 1},
                    "title": null
                  }
                },
                "color": {
                  "field": "purpose", "type": "nominal",
                  "scale": {
                    "domain": ["Commuting", "Work related", "Education", "Shopping", "Personal business and social/ recreation"],
                    "range": ["#66C2A5", "#FC8D62", "#8DA0CB", "#E78AC3", "#A6D854"]
                  }
                },
                "strokeDash": {
                  "field": "mode", "type": "nominal",
                  "scale": {
                    "domain": ["Car", "Public transport", "Active modes"],
                    "range": [[1, 0], [2.5, 7.8], [5, 5, 15, 5]]
                  }
                }
              }
            }
          ]
        }
      ]
    }
  ],
  "resolve": {"scale": {"color": "shared", "strokeDash": "shared", "x": "independent", "y": "independent"}}
}
